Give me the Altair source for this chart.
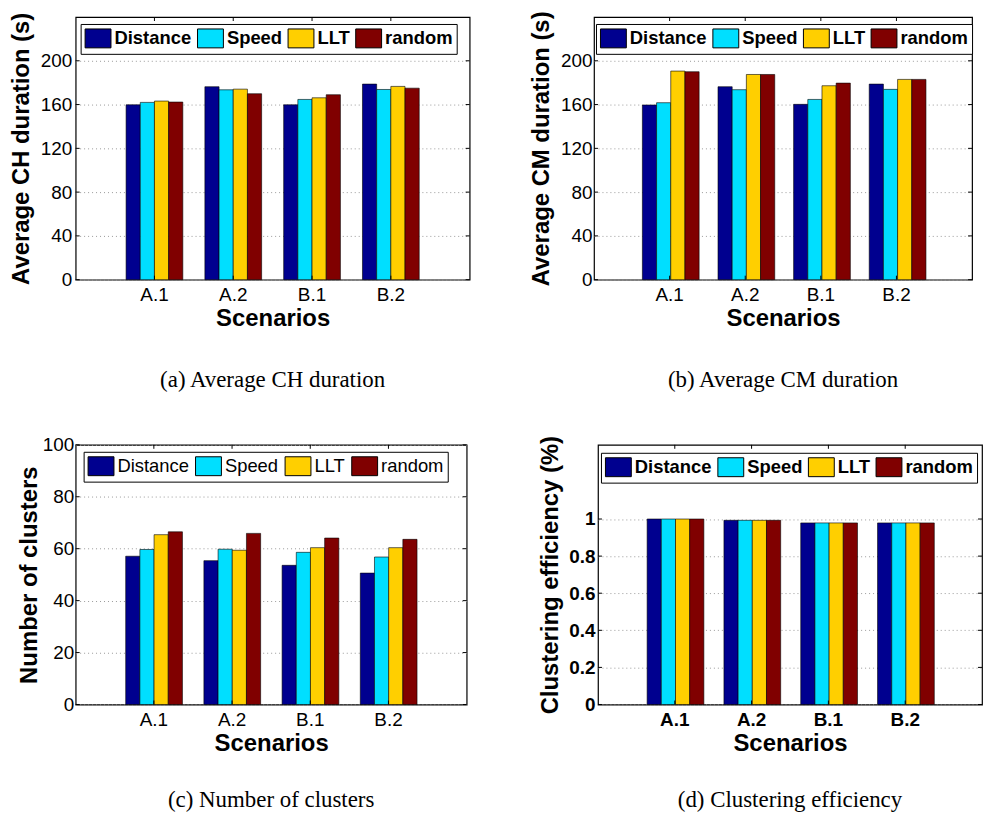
import altair as alt
import pandas as pd

scenarios = ["A.1", "A.2", "B.1", "B.2"]
methods = ["Distance", "Speed", "LLT", "random"]
colors = ["#00008F", "#00DFFF", "#FFCF00", "#800000"]

# (a) Average CH duration (s)
ch_distance = [159.8, 176.3, 159.8, 178.7]
ch_speed = [162.0, 173.5, 164.7, 173.8]
ch_llt = [163.2, 174.1, 166.2, 176.6]
ch_random = [162.3, 169.9, 169.0, 175.0]

# (b) Average CM duration (s)
cm_distance = [159.6, 176.3, 160.2, 178.7]
cm_speed = [161.7, 173.6, 164.7, 173.9]
cm_llt = [190.6, 187.5, 177.2, 183.0]
cm_random = [190.0, 187.5, 179.6, 183.0]

# (c) Number of clusters
nc_distance = [57.1, 55.4, 53.6, 50.6]
nc_speed = [59.7, 59.8, 58.6, 56.8]
nc_llt = [65.4, 59.4, 60.4, 60.4]
nc_random = [66.5, 65.9, 64.1, 63.6]

# (d) Clustering efficiency
ce_distance = [1.0, 0.993, 0.979, 0.979]
ce_speed = [1.0, 0.993, 0.979, 0.979]
ce_llt = [1.0, 0.993, 0.979, 0.979]
ce_random = [1.0, 0.993, 0.979, 0.979]

ticks_dur = [0, 40, 80, 120, 160, 200]
ticks_nc = [0, 20, 40, 60, 80, 100]
ticks_ce = [0, 0.2, 0.4, 0.6, 0.8, 1.0]

SANS = "Liberation Sans"
SERIF = "Liberation Serif"
RECT = "M-1.3,-0.95L1.3,-0.95L1.3,0.95L-1.3,0.95Z"


def long_df(series):
    rows = []
    for m, vals in zip(methods, series):
        for s, v in zip(scenarios, vals):
            rows.append({"scenario": s, "method": m, "value": v})
    return pd.DataFrame(rows)


def panel(series, ytitle, ymax, yticks, caption, w, h, lx, ly, bold_ticks,
          bold_legend, ylabpad, ytitlepad, col_pad, cap_offset):
    df = long_df(series)
    tw = "bold" if bold_ticks else "normal"
    lw = "bold" if bold_legend else "normal"
    yscale = alt.Scale(domain=[0, ymax], nice=False, zero=True)
    xscale = alt.Scale(paddingInner=0.28, paddingOuter=0.64)

    bars = alt.Chart(df).mark_bar(stroke="black", strokeWidth=0.6).encode(
        x=alt.X("scenario:N", sort=scenarios, scale=xscale,
                axis=alt.Axis(title="Scenarios", labelAngle=0, labelFont=SANS,
                              labelFontSize=19, labelFontWeight=tw, labelColor="black",
                              labelPadding=6, ticks=False, domain=False,
                              titleFont=SANS, titleFontSize=24, titleFontWeight="bold",
                              titleColor="black", titlePadding=2)),
        xOffset=alt.XOffset("method:N", sort=methods,
                            scale=alt.Scale(paddingInner=0, paddingOuter=0)),
        y=alt.Y("value:Q", scale=yscale,
                axis=alt.Axis(values=yticks, labelExpr="'' + datum.value", title=ytitle,
                              labelFont=SANS, labelFontSize=19, labelFontWeight=tw,
                              labelColor="black", labelPadding=ylabpad,
                              ticks=False, domain=False,
                              grid=True, gridDash=[1, 3], gridColor="#999999", gridWidth=1,
                              titleFont=SANS, titleFontSize=24, titleFontWeight="bold",
                              titleColor="black", titlePadding=ytitlepad)),
        color=alt.Color("method:N", sort=methods,
                        scale=alt.Scale(domain=methods, range=colors),
                        legend=alt.Legend(title=None, orient="none", legendX=lx, legendY=ly,
                                          direction="horizontal", columns=4,
                                          columnPadding=col_pad,
                                          symbolType=RECT, symbolSize=400,
                                          symbolOffset=3, labelOffset=6,
                                          symbolStrokeColor="black", symbolStrokeWidth=1,
                                          symbolOpacity=1,
                                          labelFont=SANS, labelFontSize=18.5,
                                          labelFontWeight=lw, labelColor="black",
                                          padding=4, fillColor="white",
                                          strokeColor="black")),
    )

    tdf = pd.DataFrame({"value": yticks})
    left_ticks = alt.Chart(tdf).mark_rule(color="black", strokeWidth=1).encode(
        y=alt.Y("value:Q", scale=yscale),
        x=alt.value(0), x2=alt.value(4))
    right_ticks = alt.Chart(tdf).mark_rule(color="black", strokeWidth=1).encode(
        y=alt.Y("value:Q", scale=yscale),
        x=alt.value(w - 4), x2=alt.value(w))
    sdf = pd.DataFrame({"scenario": scenarios})
    top_ticks = alt.Chart(sdf).mark_rule(color="black", strokeWidth=1).encode(
        x=alt.X("scenario:N", sort=scenarios, scale=xscale),
        y=alt.value(0), y2=alt.value(4))
    bottom_ticks = alt.Chart(sdf).mark_rule(color="black", strokeWidth=1).encode(
        x=alt.X("scenario:N", sort=scenarios, scale=xscale),
        y=alt.value(h - 4), y2=alt.value(h))

    return alt.layer(bars, left_ticks, right_ticks, top_ticks, bottom_ticks).properties(
        width=w, height=h,
        title=alt.TitleParams(caption, orient="bottom", font=SERIF, fontSize=23,
                              fontWeight="normal", color="black", offset=cap_offset,
                              anchor="middle"))


pa = panel([ch_distance, ch_speed, ch_llt, ch_random], "Average CH duration (s)", 240,
           ticks_dur, "(a) Average CH duration", 396, 264, 5, 7, False, True, 4, 7, 3, 39)
pb = panel([cm_distance, cm_speed, cm_llt, cm_random], "Average CM duration (s)", 240,
           ticks_dur, "(b) Average CM duration", 380, 264, 2, 7, False, True, 2, 7, 3, 39)
pc = panel([nc_distance, nc_speed, nc_llt, nc_random], "Number of clusters", 100,
           ticks_nc, "(c) Number of clusters", 393, 261, 8, 7, False, False, 2, 1, 4, 34)
pd_ = panel([ce_distance, ce_speed, ce_llt, ce_random], "Clustering efficiency (%)", 1.4,
            ticks_ce, "(d) Clustering efficiency", 386, 261, 3, 8, True, True, 3, 6, 3, 34)

row1 = alt.hconcat(pa, pb, spacing=57).resolve_scale(color="independent").resolve_legend(color="independent")
row2 = alt.hconcat(pc, pd_, spacing=69).resolve_scale(color="independent").resolve_legend(color="independent")

chart = alt.vconcat(row1, row2, spacing=41).resolve_scale(
    color="independent").resolve_legend(color="independent").properties(
    padding={"left": 0, "top": 0, "right": 0, "bottom": 0}, background="white"
).configure_view(stroke="black", strokeWidth=1.2).configure_legend(strokeWidth=1)

chart.save("out.html", embed_options={"renderer": "svg", "actions": False})
